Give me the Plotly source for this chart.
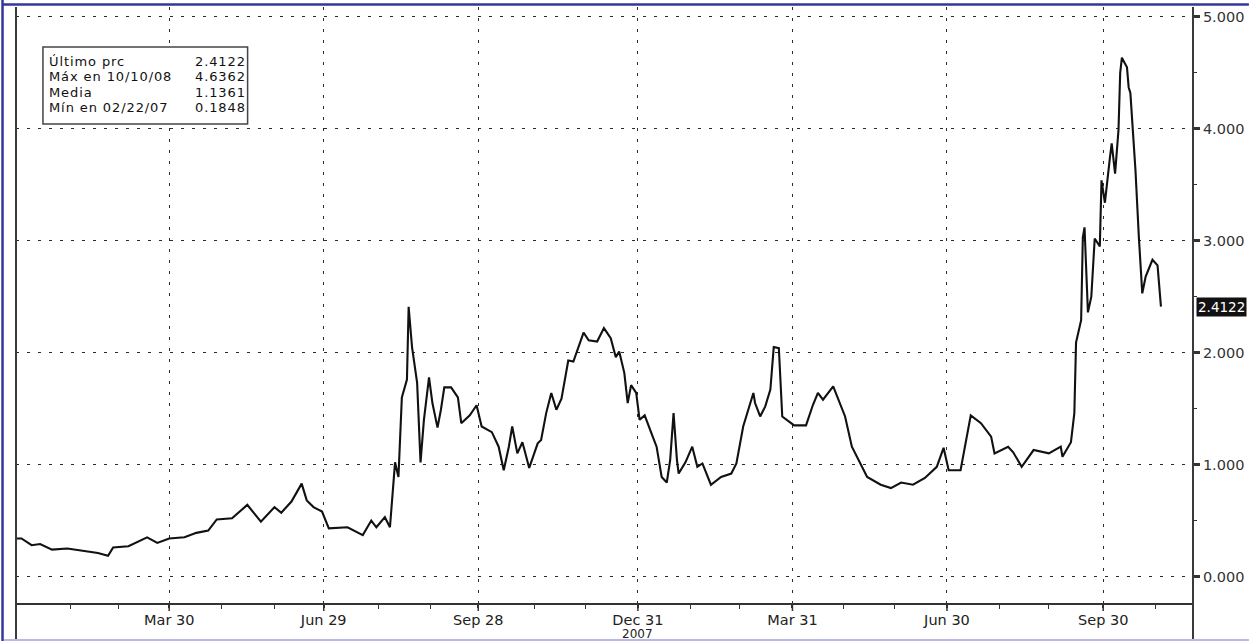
import plotly.graph_objects as go

# ---------------- data ----------------
dates = [
    # Q1 2007
    "2006-12-30", "2007-01-02", "2007-01-08", "2007-01-13", "2007-01-20", "2007-01-29",
    "2007-02-07", "2007-02-16", "2007-02-22", "2007-02-25", "2007-03-06", "2007-03-17",
    "2007-03-23", "2007-03-30",
    # Q2 2007
    "2007-04-08", "2007-04-15", "2007-04-22", "2007-04-27", "2007-05-06", "2007-05-15",
    "2007-05-23", "2007-05-31", "2007-06-04", "2007-06-10", "2007-06-16", "2007-06-19",
    "2007-06-23", "2007-06-28",
    # Q3 2007
    "2007-07-02", "2007-07-13", "2007-07-22", "2007-07-27", "2007-07-30", "2007-08-04",
    "2007-08-07", "2007-08-10", "2007-08-12", "2007-08-14", "2007-08-17", "2007-08-18",
    "2007-08-20", "2007-08-23", "2007-08-25", "2007-08-27", "2007-08-30", "2007-09-01",
    "2007-09-04", "2007-09-06", "2007-09-08", "2007-09-12", "2007-09-16", "2007-09-18",
    "2007-09-23", "2007-09-27", "2007-09-30",
    # Q4 2007
    "2007-10-06", "2007-10-10", "2007-10-13", "2007-10-16", "2007-10-18", "2007-10-21",
    "2007-10-24", "2007-10-28", "2007-11-02", "2007-11-04", "2007-11-07", "2007-11-10",
    "2007-11-13", "2007-11-16", "2007-11-20", "2007-11-23", "2007-11-26", "2007-11-29",
    "2007-12-02", "2007-12-07", "2007-12-11", "2007-12-15", "2007-12-18", "2007-12-20",
    "2007-12-23", "2007-12-25", "2007-12-27", "2007-12-30",
    # Q1 2008
    "2008-01-01", "2008-01-04", "2008-01-08", "2008-01-11", "2008-01-14", "2008-01-17",
    "2008-01-19", "2008-01-21", "2008-01-23", "2008-01-24", "2008-01-28", "2008-02-01",
    "2008-02-04", "2008-02-07", "2008-02-12", "2008-02-18", "2008-02-24", "2008-02-27",
    "2008-03-02", "2008-03-08", "2008-03-09", "2008-03-12", "2008-03-15", "2008-03-18",
    "2008-03-20", "2008-03-23", "2008-03-25",
    # Q2 2008
    "2008-04-01", "2008-04-08", "2008-04-12", "2008-04-15", "2008-04-18", "2008-04-24",
    "2008-04-28", "2008-05-01", "2008-05-05", "2008-05-10", "2008-05-14", "2008-05-22",
    "2008-05-28", "2008-06-03", "2008-06-10", "2008-06-17", "2008-06-24", "2008-06-28",
    # Q3 2008
    "2008-07-01", "2008-07-08", "2008-07-14", "2008-07-20", "2008-07-26", "2008-07-28",
    "2008-08-05", "2008-08-08", "2008-08-13", "2008-08-20", "2008-08-29", "2008-09-05",
    "2008-09-06", "2008-09-11", "2008-09-13", "2008-09-14", "2008-09-17", "2008-09-18",
    "2008-09-19", "2008-09-21", "2008-09-23", "2008-09-25", "2008-09-28", "2008-09-29",
    # Q4 2008
    "2008-10-01", "2008-10-04", "2008-10-05", "2008-10-07", "2008-10-09", "2008-10-10",
    "2008-10-11", "2008-10-14", "2008-10-15", "2008-10-16", "2008-10-19", "2008-10-21",
    "2008-10-23", "2008-10-25", "2008-10-29", "2008-11-01", "2008-11-03",
]

values = [
    # Q1 2007
    0.34, 0.34, 0.28, 0.29, 0.24, 0.25,
    0.23, 0.21, 0.1848, 0.26, 0.27, 0.35,
    0.30, 0.34,
    # Q2 2007
    0.35, 0.39, 0.41, 0.51, 0.52, 0.64,
    0.49, 0.62, 0.57, 0.67, 0.83, 0.68,
    0.62, 0.58,
    # Q3 2007
    0.43, 0.44, 0.37, 0.50, 0.44, 0.53,
    0.44, 1.02, 0.89, 1.60, 1.76, 2.41,
    2.05, 1.73, 1.02, 1.40, 1.78, 1.55,
    1.33, 1.49, 1.69, 1.69, 1.60, 1.37,
    1.44, 1.53, 1.34,
    # Q4 2007
    1.29, 1.16, 0.95, 1.16, 1.34, 1.10,
    1.20, 0.97, 1.19, 1.22, 1.46, 1.64,
    1.49, 1.59, 1.93, 1.92, 2.05, 2.18,
    2.11, 2.10, 2.22, 2.13, 1.96, 2.01,
    1.82, 1.55, 1.71, 1.64,
    # Q1 2008
    1.40, 1.44, 1.28, 1.16, 0.89, 0.84,
    1.04, 1.46, 1.04, 0.92, 1.02, 1.16,
    0.98, 1.01, 0.82, 0.89, 0.92, 1.01,
    1.34, 1.64, 1.55, 1.43, 1.52, 1.67,
    2.05, 2.04, 1.43,
    # Q2 2008
    1.35, 1.35, 1.53, 1.64, 1.58, 1.70,
    1.55, 1.43, 1.16, 1.01, 0.89, 0.82,
    0.79, 0.84, 0.82, 0.88, 0.98, 1.15,
    # Q3 2008
    0.95, 0.95, 1.44, 1.37, 1.25, 1.10,
    1.16, 1.11, 0.98, 1.13, 1.10, 1.16,
    1.07, 1.20, 1.46, 2.09, 2.29, 3.03,
    3.12, 2.36, 2.50, 3.02, 2.95, 3.54,
    # Q4 2008
    3.34, 3.75, 3.87, 3.60, 3.99, 4.50,
    4.6362, 4.55, 4.37, 4.32, 3.63, 3.03,
    2.53, 2.68, 2.83, 2.78, 2.4122,
]

x_major_ticks = ["2007-03-30", "2007-06-29", "2007-09-28", "2007-12-31",
                 "2008-03-31", "2008-06-30", "2008-09-30"]
x_major_labels = ["Mar 30", "Jun 29", "Sep 28", "Dec 31",
                  "Mar 31", "Jun 30", "Sep 30"]
x_minor_ticks = ["2007-01-31", "2007-02-28", "2007-04-30", "2007-05-31",
                 "2007-07-31", "2007-08-31", "2007-10-31", "2007-11-30",
                 "2008-01-31", "2008-02-29", "2008-04-30", "2008-05-30",
                 "2008-07-31", "2008-08-29", "2008-10-31"]
x_range = ["2006-12-29 19:00", "2008-11-21 21:00"]
year_label = "2007"
year_label_at = "2007-12-31"

y_ticks = [0, 1, 2, 3, 4, 5]
y_labels = ["0.000", "1.000", "2.000", "3.000", "4.000", "5.000"]
y_minor_ticks = [0.5, 1.5, 2.5, 3.5, 4.5]
y_range = [-0.2368, 5.089]

legend_names = ["Último prc", "Máx en 10/10/08", "Media", "Mín en 02/22/07"]
legend_values = ["2.4122", "4.6362", "1.1361", "0.1848"]
last_label = "2.4122"

# ---------------- layout geometry (pixels) ----------------
W, H = 1251, 641
L, R, T, B = 16, 56, 7, 38
PW, PH = W - L - R, H - T - B


def px(x):
    return (x - L) / PW


def py(y):
    return (H - B - y) / PH


FONT = "DejaVu Sans"
GRID = "#2a2a2a"
AX = "#333333"

fig = go.Figure()
fig.add_trace(go.Scatter(
    x=dates, y=values, mode="lines",
    line=dict(color="#111111", width=2.1),
    showlegend=False, hoverinfo="skip",
))

fig.update_layout(
    width=W, height=H,
    margin=dict(l=L, r=R, t=T, b=B, pad=0),
    paper_bgcolor="white", plot_bgcolor="white",
    font=dict(family=FONT, size=14, color=AX),
    showlegend=False,
)

fig.update_xaxes(
    type="date", range=x_range,
    tickmode="array", tickvals=x_major_ticks, ticktext=x_major_labels,
    ticks="outside", ticklen=3, tickwidth=1.5, tickcolor=AX,
    tickfont=dict(family=FONT, size=14.5, color="#222222"),
    showgrid=True, gridcolor=GRID, gridwidth=1.3, griddash="3px,8px",
    showline=True, linecolor=AX, linewidth=2,
    zeroline=False,
    minor=dict(tickvals=x_minor_ticks, ticks="outside", ticklen=4,
               tickwidth=1.2, tickcolor=AX, showgrid=False),
)

fig.update_yaxes(
    side="right", range=y_range,
    tickmode="array", tickvals=y_ticks, ticktext=y_labels,
    ticks="outside", ticklen=6, tickwidth=2.5, tickcolor=AX,
    tickfont=dict(family=FONT, size=14.5, color=AX),
    showgrid=True, gridcolor=GRID, gridwidth=1.3, griddash="3px,8px",
    showline=False, zeroline=False,
    minor=dict(tickvals=y_minor_ticks, ticks="outside", ticklen=3,
               tickwidth=1.2, tickcolor=AX, showgrid=False),
)

shapes = [
    # plot frame verticals running down to the bottom edge
    dict(type="line", xref="paper", yref="paper", x0=px(16), x1=px(16),
         y0=py(7), y1=py(641), line=dict(color="#3a3a3a", width=2)),
    dict(type="line", xref="paper", yref="paper", x0=px(1195), x1=px(1195),
         y0=py(7), y1=py(641), line=dict(color="#3a3a3a", width=2)),
    # outer blue frame
    dict(type="line", xref="paper", yref="paper", x0=px(2.5), x1=px(2.5),
         y0=py(0), y1=py(641), line=dict(color="#34369c", width=2.5)),
    dict(type="line", xref="paper", yref="paper", x0=px(2), x1=px(1251),
         y0=py(4.5), y1=py(4.5), line=dict(color="#34369c", width=2.5)),
    dict(type="line", xref="paper", yref="paper", x0=px(4), x1=px(1251),
         y0=py(640), y1=py(640), line=dict(color="#b8bae6", width=2)),
    # statistics box
    dict(type="rect", xref="paper", yref="paper", x0=px(43), x1=px(248),
         y0=py(124), y1=py(47), line=dict(color="#444444", width=1.5),
         fillcolor="white", layer="above"),
]
# longer marks at the labelled (quarter) ticks
for t in x_major_ticks:
    shapes.append(dict(type="line", xref="x", yref="paper", x0=t, x1=t,
                       y0=0, y1=-8 / PH, line=dict(color=AX, width=1.5)))
fig.update_layout(shapes=shapes)

SPREAD = "letter-spacing:0.9px"
annotations = []
for i, (name, val) in enumerate(zip(legend_names, legend_values)):
    yc = py(61.5 + 15.3 * i)
    annotations.append(dict(
        xref="paper", yref="paper", x=px(47), y=yc, xanchor="left",
        yanchor="middle", text=f'<span style="{SPREAD}">{name}</span>',
        showarrow=False,
        font=dict(family=FONT, size=13, color="#111111")))
    annotations.append(dict(
        xref="paper", yref="paper", x=px(248), y=yc, xanchor="right",
        yanchor="middle", text=f'<span style="{SPREAD}">{val}</span>',
        showarrow=False,
        font=dict(family=FONT, size=13, color="#111111")))

# year under the Dec 31 label
annotations.append(dict(
    xref="x", yref="paper", x=year_label_at, y=py(633.8), xanchor="center",
    yanchor="middle", text=year_label, showarrow=False,
    font=dict(family=FONT, size=12, color="#222222")))

# last-price tag on the right axis
annotations.append(dict(
    xref="paper", yref="y", x=1, y=values[-1], xanchor="left",
    yanchor="middle", xshift=3, text=last_label, showarrow=False,
    bgcolor="#111111", borderpad=1,
    font=dict(family=FONT, size=13.5, color="white")))
fig.update_layout(annotations=annotations)

page_fix = (
    "var d=document.getElementById('{plot_id}');"
    "d.style.position='fixed';d.style.left='0px';d.style.top='0px';"
    "document.documentElement.style.margin='0';"
    "document.documentElement.style.overflow='hidden';"
    "document.body.style.margin='0';document.body.style.overflow='hidden';"
)

fig.write_html(
    "out.html",
    config={"displayModeBar": False},
    post_script=page_fix,
)
